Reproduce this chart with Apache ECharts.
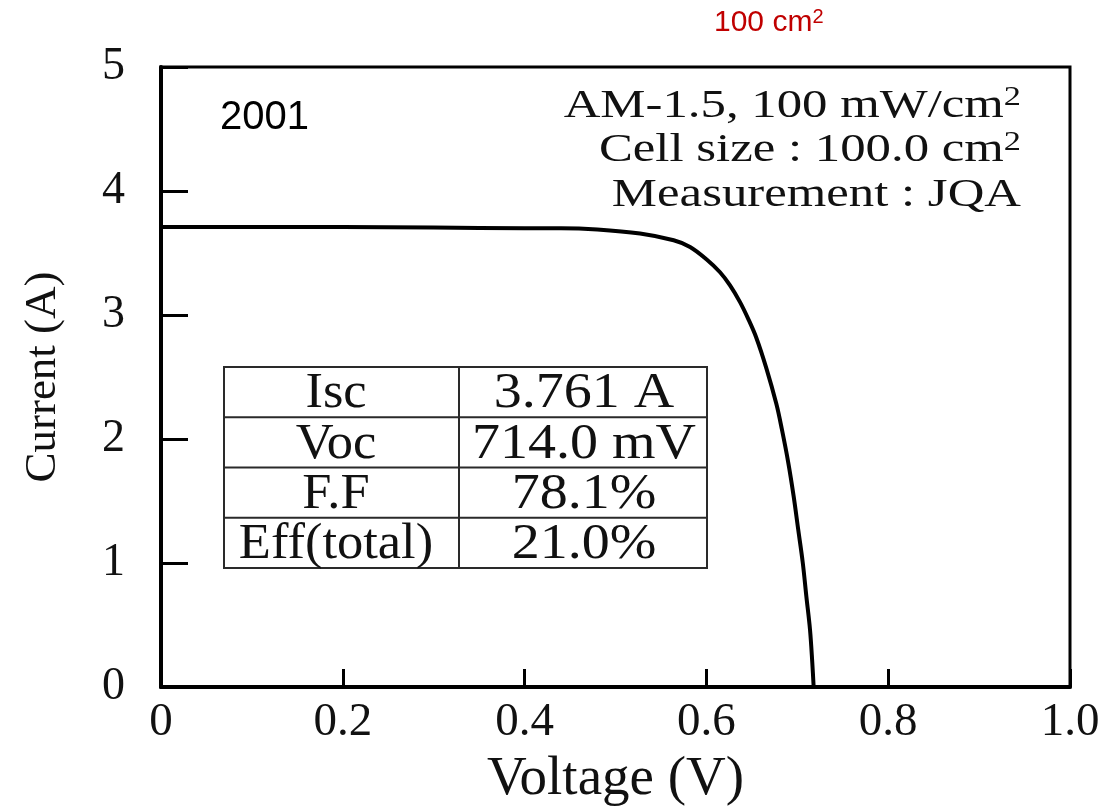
<!DOCTYPE html>
<html>
<head>
<meta charset="utf-8">
<script src="https://cdn.jsdelivr.net/npm/echarts@6/dist/echarts.min.js"></script>
<style>
html,body{margin:0;padding:0;background:#fff;}
#chart{width:1110px;height:806px;}
</style>
</head>
<body>
<div id="chart"></div>
<script>
// I-V curve
var voltage = [0, 0.1, 0.2, 0.3, 0.4, 0.44, 0.48, 0.527, 0.564, 0.582, 0.600, 0.615, 0.626, 0.637, 0.646, 0.655, 0.666, 0.677, 0.683, 0.690, 0.696, 0.701, 0.706, 0.710, 0.714, 0.7165, 0.718];
var current = [3.71, 3.71, 3.71, 3.705, 3.70, 3.70, 3.69, 3.657, 3.603, 3.549, 3.450, 3.345, 3.239, 3.104, 2.969, 2.815, 2.570, 2.282, 2.079, 1.812, 1.537, 1.270, 1.003, 0.728, 0.461, 0.194, 0];
var xTicks = [0, 0.2, 0.4, 0.6, 0.8, 1.0];
var yTicks = [0, 1, 2, 3, 4, 5];
var tableLabels = ['Isc', 'Voc', 'F.F', 'Eff(total)'];
var tableValues = ['3.761 A', '714.0 mV', '78.1%', '21.0%'];
var conditionLines = ['AM-1.5, 100 mW/cm{s|2}', 'Cell size : 100.0 cm{s|2}', 'Measurement : JQA'];
var yearLabel = '2001';
var areaLabel = '100 cm{s|2}';

var serif = '"Liberation Serif", "Times New Roman", serif';
var sans = '"Liberation Sans", Arial, sans-serif';

var chart = echarts.init(document.getElementById('chart'), null, {renderer: 'canvas'});

var pts = voltage.map(function (v, i) { return [v, current[i]]; });

// table graphic
var tX0 = 224, tX1 = 459, tX2 = 707, tY0 = 367, rowH = 50.25;
var tableEls = [];
tableEls.push({type: 'rect', shape: {x: tX0, y: tY0, width: tX2 - tX0, height: rowH * 4}, style: {fill: '#fff', stroke: '#2a2a2a', lineWidth: 2}, z: 10});
tableEls.push({type: 'line', shape: {x1: tX1, y1: tY0, x2: tX1, y2: tY0 + rowH * 4}, style: {stroke: '#2a2a2a', lineWidth: 2}, z: 11});
for (var r = 1; r < 4; r++) {
  tableEls.push({type: 'line', shape: {x1: tX0, y1: tY0 + rowH * r, x2: tX2, y2: tY0 + rowH * r}, style: {stroke: '#2a2a2a', lineWidth: 2}, z: 11});
}
tableLabels.forEach(function (t, i) {
  tableEls.push({type: 'text', x: 336, y: tY0 + rowH * (i + 0.5) + 2, scaleX: 1.05,
    style: {text: t, font: '50px ' + serif, fill: '#111', align: 'center', verticalAlign: 'middle'}, z: 12});
});
tableValues.forEach(function (t, i) {
  tableEls.push({type: 'text', x: 584, y: tY0 + rowH * (i + 0.5) + 2, scaleX: 1.12,
    style: {text: t, font: '50px ' + serif, fill: '#111', align: 'center', verticalAlign: 'middle'}, z: 12});
});

var condEls = conditionLines.map(function (t, i) {
  return {
    type: 'text', x: 1021, y: 106 + i * 44.5, scaleX: 1.27,
    style: {
      text: t, fill: '#111', align: 'right', verticalAlign: 'middle',
      font: '40px ' + serif,
      rich: {s: {fontSize: 27, fontFamily: serif, verticalAlign: 'top', padding: [0, 0, 16, 0], fill: '#111'}}
    }, z: 12
  };
});

var option = {
  backgroundColor: '#fff',
  animation: false,
  grid: {left: 161, right: 40, top: 67, bottom: 119, show: true, borderColor: '#000', borderWidth: 3, containLabel: false, outerBoundsMode: 'none'},
  xAxis: {
    type: 'value', min: 0, max: 1.0, interval: 0.2,
    name: 'Voltage (V)', nameLocation: 'middle', nameGap: 65,
    nameTextStyle: {fontFamily: serif, fontSize: 55, color: '#111'},
    axisLine: {show: true, onZero: false, lineStyle: {color: '#000', width: 4}},
    axisTick: {show: true, inside: true, length: 18, lineStyle: {color: '#000', width: 3}},
    axisLabel: {fontFamily: serif, fontSize: 47, color: '#111', margin: 12,
      formatter: function (v) { return v === 0 ? '0' : v.toFixed(1); }},
    splitLine: {show: false}
  },
  yAxis: {
    type: 'value', min: 0, max: 5, interval: 1,
    name: 'Current (A)', nameLocation: 'middle', nameGap: 95, nameRotate: 90,
    nameTextStyle: {fontFamily: serif, fontSize: 45, color: '#111'},
    axisLine: {show: true, onZero: false, lineStyle: {color: '#000', width: 4}},
    axisTick: {show: true, inside: true, length: 27, lineStyle: {color: '#000', width: 3}},
    axisLabel: {fontFamily: serif, fontSize: 46, color: '#111', margin: 36,
      formatter: function (v) { return String(v); }},
    splitLine: {show: false}
  },
  series: [{
    type: 'line', data: pts, showSymbol: false, smooth: 0.35,
    lineStyle: {color: '#000', width: 4}, z: 5
  }],
  graphic: [
    {type: 'text', x: 220, y: 118, style: {text: yearLabel, font: '40px ' + sans, fill: '#000', align: 'left', verticalAlign: 'middle'}, z: 12},
    {type: 'text', x: 714, y: 23, style: {text: areaLabel, font: '30px ' + sans, fill: '#C00000', align: 'left', verticalAlign: 'middle',
      rich: {s: {fontSize: 20, fontFamily: sans, fill: '#C00000', verticalAlign: 'top', padding: [0, 0, 12, 0]}}}, z: 12}
  ].concat(condEls).concat(tableEls)
};
chart.setOption(option);
</script>
</body>
</html>
